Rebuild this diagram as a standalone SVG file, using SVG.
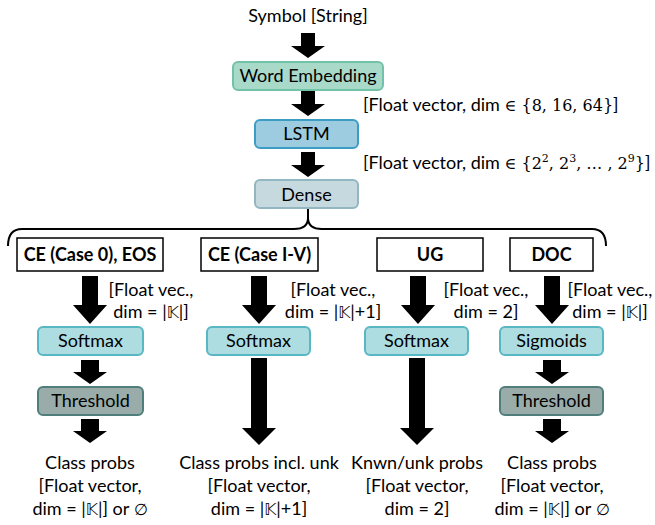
<svg xmlns="http://www.w3.org/2000/svg" width="655" height="525" viewBox="0 0 655 525">
<style>
text{font-family:Lato,"Open Sans","DejaVu Sans",sans-serif;font-size:18px;fill:#000}
.c{text-anchor:middle}
.b{font-weight:bold}
.m{font-family:"DejaVu Serif","Liberation Serif",serif;font-size:16px}
.k{font-family:"DejaVu Sans","Noto Sans",sans-serif;font-size:16px}
.arr{fill:#000}
.we{fill:#a9d9c9;stroke:#72c2a9;stroke-width:2}
.ls{fill:#9dcbdf;stroke:#3b9cc4;stroke-width:2}
.de{fill:#c6d9df;stroke:#92b6c2;stroke-width:2}
.sm{fill:#addce1;stroke:#58b7c3;stroke-width:2}
.th{fill:#99aca9;stroke:#4f7e7b;stroke-width:2}
.wb{fill:#fff;stroke:#000;stroke-width:1.5}
</style>
<defs>
<path id="a1" d="M-7,0 H7 V13 H17 L0,25 L-17,13 H-7 Z"/>
<path id="a2" d="M-9,0 H9 V12 H17 L0,24 L-17,12 H-9 Z"/>
<path id="a3" d="M-8,0 H8 V29 H17 L0,48 L-17,29 H-8 Z"/>
<path id="a4" d="M-8,0 H8 V70 H17 L0,87 L-17,70 H-8 Z"/>
</defs>

<g id="connectors" class="arr">
<use href="#a1" x="308" y="33"/>
<use href="#a1" x="308" y="91" transform="translate(0,0)"/>
<use href="#a1" x="308" y="152"/>
<path d="M308,208 V219" fill="none" stroke="#000" stroke-width="2"/>
<path d="M8,246 Q8,229 22,229 H294 Q308,229 308,218 Q308,229 322,229 H592 Q606,229 606,246" fill="none" stroke="#000" stroke-width="2"/>
<use href="#a3" x="90" y="276"/>
<use href="#a2" x="90" y="360"/>
<use href="#a2" x="90" y="419"/>
<use href="#a3" x="259" y="276"/>
<use href="#a4" x="259" y="358"/>
<use href="#a3" x="418" y="276"/>
<use href="#a4" x="417" y="358"/>
<use href="#a3" x="552" y="276"/>
<use href="#a2" x="552" y="360"/>
<use href="#a2" x="552" y="419"/>
</g>

<g id="input"><text class="c" x="308" y="22">Symbol [String]</text></g>
<g id="word-embedding"><rect class="we" x="233" y="62" width="150" height="28" rx="5"/><text class="c" x="308" y="82">Word Embedding</text></g>
<g id="lbl-emb"><text x="363" y="111">[Float vector, dim <tspan class="m">∈ {8, 16, 64}</tspan>]</text></g>
<g id="lstm"><rect class="ls" x="255" y="120" width="103" height="28" rx="5"/><text class="c" x="306.5" y="140">LSTM</text></g>
<g id="lbl-lstm"><text x="363" y="169">[Float vector, dim <tspan class="m">∈ {2<tspan dy="-7" font-size="11">2</tspan><tspan dy="7">, 2</tspan><tspan dy="-7" font-size="11">3</tspan><tspan dy="7">, … , 2</tspan><tspan dy="-7" font-size="11">9</tspan><tspan dy="7">}</tspan></tspan>]</text></g>
<g id="dense"><rect class="de" x="255" y="180" width="103" height="28" rx="5"/><text class="c" x="306.5" y="201">Dense</text></g>

<g id="ce0"><rect class="wb" x="17" y="238" width="146" height="33"/><text class="c b" x="90" y="261">CE (Case 0), EOS</text></g>
<g id="ce1"><rect class="wb" x="201" y="238" width="117" height="33"/><text class="c b" x="259.5" y="261">CE (Case I-V)</text></g>
<g id="ug"><rect class="wb" x="377" y="238" width="106" height="33"/><text class="c b" x="430" y="261">UG</text></g>
<g id="doc"><rect class="wb" x="510" y="238" width="83" height="33"/><text class="c b" x="551.5" y="261">DOC</text></g>

<g id="lbl1"><text class="c" x="151" y="296">[Float vec.,</text><text class="c" x="151" y="318">dim = |<tspan class="k">𝕂</tspan>|]</text></g>
<g id="lbl2"><text class="c" x="333" y="296">[Float vec.,</text><text class="c" x="333" y="318">dim = |<tspan class="k">𝕂</tspan>|+1]</text></g>
<g id="lbl3"><text class="c" x="486" y="296">[Float vec.,</text><text class="c" x="486" y="318">dim = 2]</text></g>
<g id="lbl4"><text class="c" x="610" y="296">[Float vec.,</text><text class="c" x="610" y="318">dim = |<tspan class="k">𝕂</tspan>|]</text></g>

<g id="softmax1"><rect class="sm" x="38" y="327" width="105" height="28" rx="5"/><text class="c" x="90.5" y="347">Softmax</text></g>
<g id="threshold1"><rect class="th" x="38" y="387" width="105" height="28" rx="5"/><text class="c" x="90.5" y="407">Threshold</text></g>
<g id="softmax2"><rect class="sm" x="207" y="327" width="103" height="28" rx="5"/><text class="c" x="258.5" y="347">Softmax</text></g>
<g id="softmax3"><rect class="sm" x="365" y="327" width="103" height="28" rx="5"/><text class="c" x="416.5" y="347">Softmax</text></g>
<g id="sigmoids"><rect class="sm" x="500" y="327" width="103" height="28" rx="5"/><text class="c" x="551.5" y="347">Sigmoids</text></g>
<g id="threshold4"><rect class="th" x="500" y="387" width="103" height="28" rx="5"/><text class="c" x="551.5" y="407">Threshold</text></g>

<g id="out1"><text class="c" x="90" y="469">Class probs</text><text class="c" x="90" y="492">[Float vector,</text><text class="c" x="90" y="515">dim = |<tspan class="k">𝕂</tspan>|] or <tspan class="m">∅</tspan></text></g>
<g id="out2"><text class="c" x="259" y="469">Class probs incl. unk</text><text class="c" x="259" y="492">[Float vector,</text><text class="c" x="259" y="515">dim = |<tspan class="k">𝕂</tspan>|+1]</text></g>
<g id="out3"><text class="c" x="417" y="469">Knwn/unk probs</text><text class="c" x="417" y="492">[Float vector,</text><text class="c" x="417" y="515">dim = 2]</text></g>
<g id="out4"><text class="c" x="552" y="469">Class probs</text><text class="c" x="552" y="492">[Float vector,</text><text class="c" x="552" y="515">dim = |<tspan class="k">𝕂</tspan>|] or <tspan class="m">∅</tspan></text></g>
</svg>
